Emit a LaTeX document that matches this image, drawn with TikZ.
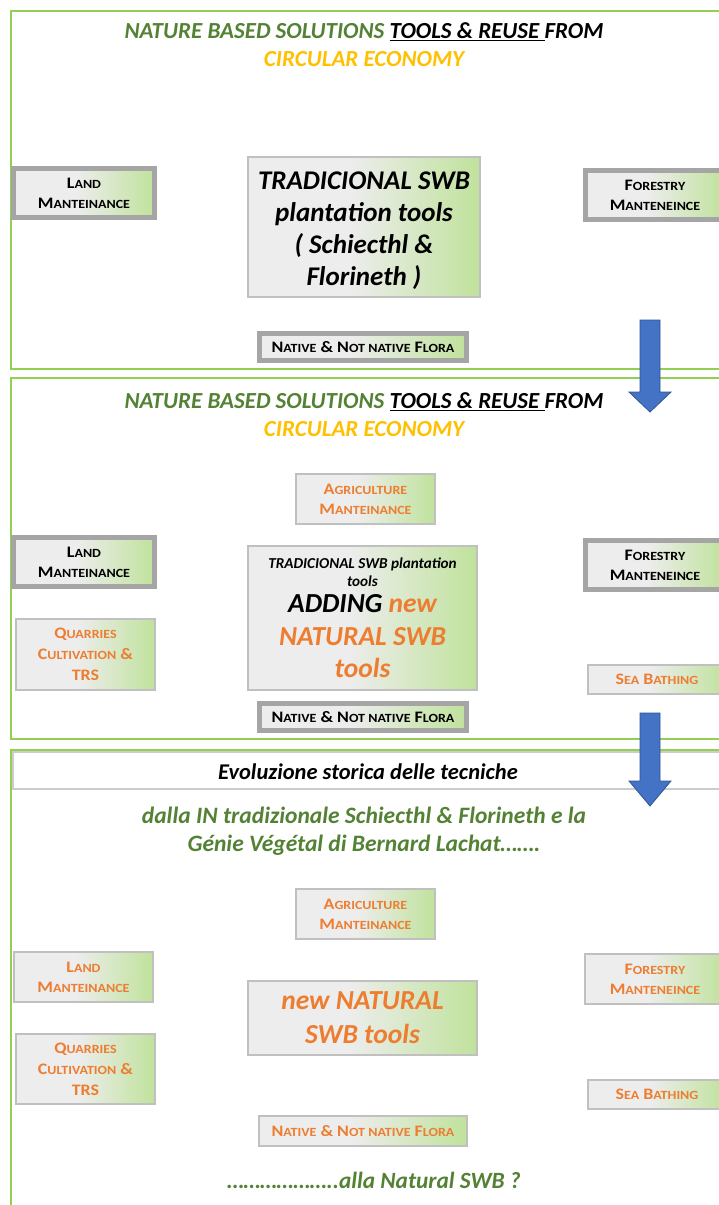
\documentclass[tikz,border=0pt]{standalone}
\usepackage{fontspec}
\setmainfont{Carlito}
\newfontfamily\boxfont[FakeStretch=1.12]{Carlito}
\definecolor{framegreen}{HTML}{92D050}
\definecolor{titlegreen}{HTML}{548235}
\definecolor{gold}{HTML}{FFC000}
\definecolor{orng}{HTML}{ED7D31}
\definecolor{boxgray}{HTML}{EDEDED}
\definecolor{boxgreen}{HTML}{C0E29C}
\definecolor{thickborder}{HTML}{A5A5A5}
\definecolor{thinborder}{HTML}{C0C0C0}
\definecolor{arrblue}{HTML}{4472C4}
\definecolor{arredge}{HTML}{2F5597}
\pgfdeclarehorizontalshading{boxshade}{100bp}{color(0bp)=(boxgray); color(47bp)=(boxgray); color(75bp)=(boxgreen); color(100bp)=(boxgreen)}
\newcommand\sm[1]{{\fontsize{12.5}{12.5}\selectfont #1}}
\newcommand\nolsl{\lineskiplimit=-100pt\relax}
\tikzset{
  frame/.style={draw=framegreen, line width=2pt},
  boxbase/.style={shade, shading=boxshade, align=center, inner sep=0pt,
    font={\boxfont\bfseries\fontsize{16}{20}\selectfont\nolsl}},
  thinbox/.style={boxbase, draw=thinborder, line width=1.3pt},
  thickbox/.style={boxbase, draw=thickborder, line width=5pt},
  bigtext/.style={font={\bfseries\itshape\fontsize{27}{32}\selectfont\nolsl}},
  titletext/.style={align=center, inner sep=0pt, font={\bfseries\itshape\fontsize{23}{28}\selectfont\nolsl}},
  blockarrow/.style={fill=arrblue, draw=arredge, line width=0.8pt}
}
\begin{document}
\begin{tikzpicture}[x=1pt,y=-1pt]
\clip (0,0) rectangle (719,1205);
\fill[white] (0,0) rectangle (719,1205);
% panel frames
\draw[frame] (11,11) rectangle (740,369);
\draw[frame] (11,378) rectangle (740,739);
\draw[frame] (11,750) rectangle (740,1230);

% ---------- panel 1
\node[titletext] (t1) at (364,45) {\textcolor{titlegreen}{NATURE BASED SOLUTIONS} \underline{TOOLS \& REUSE\ }FROM\\\textcolor{gold}{CIRCULAR ECONOMY}};
\node[thickbox, minimum width=141pt, minimum height=49pt] (land1) at (84,193) {L\sm{AND}\\M\sm{ANTEINANCE}};
\node[thinbox, bigtext, minimum width=232pt, minimum height=140pt] (trad1) at (364,227) {\rule{0pt}{25pt}TRADICIONAL SWB\\plantation tools\\( Schiecthl \&\\Florineth )};
\node[thickbox, minimum width=139pt, minimum height=49pt] (forest1) at (655,195) {F\sm{ORESTRY}\\M\sm{ANTENEINCE}};
\node[thickbox, minimum width=207pt, minimum height=27pt] (native1) at (363,347) {N\sm{ATIVE} \& N\sm{OT NATIVE} F\sm{LORA}};

% ---------- panel 2
\node[titletext] (t2) at (364,415) {\textcolor{titlegreen}{NATURE BASED SOLUTIONS} \underline{TOOLS \& REUSE\ }FROM\\\textcolor{gold}{CIRCULAR ECONOMY}};
\node[thinbox, text=orng, minimum width=139pt, minimum height=50pt] (agri2) at (365.5,499) {A\sm{GRICULTURE}\\M\sm{ANTEINANCE}};
\node[thickbox, minimum width=141pt, minimum height=49pt] (land2) at (84,562) {L\sm{AND}\\M\sm{ANTEINANCE}};
\node[thinbox, minimum width=229pt, minimum height=144pt,
  font={\bfseries\itshape\fontsize{27.5}{18}\selectfont\nolsl}] (trad2) at (362.5,618)
  {{\fontsize{15.2}{18}\selectfont TRADICIONAL SWB plantation}\\{\fontsize{15.2}{18}\selectfont tools}\\[8pt]ADDING \textcolor{orng}{new}\\[15pt]\textcolor{orng}{NATURAL SWB}\\[14pt]\textcolor{orng}{tools}};
\node[thinbox, text=orng, minimum width=139pt, minimum height=71pt, font={\boxfont\bfseries\fontsize{16}{21}\selectfont\nolsl}] (quarr2) at (85.5,654.5) {Q\sm{UARRIES}\\C\sm{ULTIVATION} \&\\TRS};
\node[thickbox, minimum width=139pt, minimum height=49pt] (forest2) at (655,565) {F\sm{ORESTRY}\\M\sm{ANTENEINCE}};
\node[thinbox, text=orng, minimum width=138pt, minimum height=29pt] (sea2) at (657,679.5) {S\sm{EA} B\sm{ATHING}};
\node[thickbox, minimum width=207pt, minimum height=27pt] (native2) at (363,717) {N\sm{ATIVE} \& N\sm{OT NATIVE} F\sm{LORA}};

% ---------- panel 3
\draw[draw=black!20, line width=1.2pt, fill=white] (13,752) rectangle (745,789);
\node[titletext, font={\bfseries\itshape\fontsize{22.5}{24}\selectfont}] (hdr) at (368,772) {Evoluzione storica delle tecniche};
\node[titletext, text=titlegreen, font={\bfseries\itshape\fontsize{23.5}{28}\selectfont\nolsl}] (hist) at (364,831) {dalla IN tradizionale Schiecthl \& Florineth e la\\G\'enie V\'eg\'etal di Bernard Lachat…….};
\node[thinbox, text=orng, minimum width=139pt, minimum height=50pt] (agri3) at (365.5,914) {A\sm{GRICULTURE}\\M\sm{ANTEINANCE}};
\node[thinbox, text=orng, minimum width=139pt, minimum height=50pt] (land3) at (83.5,977) {L\sm{AND}\\M\sm{ANTEINANCE}};
\node[thinbox, text=orng, minimum width=140pt, minimum height=50pt] (forest3) at (655,979) {F\sm{ORESTRY}\\M\sm{ANTENEINCE}};
\node[thinbox, text=orng, minimum width=229pt, minimum height=74pt, font={\bfseries\itshape\fontsize{27.5}{34}\selectfont\nolsl}] (new3) at (362.5,1018) {new NATURAL\\SWB tools};
\node[thinbox, text=orng, minimum width=139pt, minimum height=70pt, font={\boxfont\bfseries\fontsize{16}{21}\selectfont\nolsl}] (quarr3) at (85.5,1069) {Q\sm{UARRIES}\\C\sm{ULTIVATION} \&\\TRS};
\node[thinbox, text=orng, minimum width=138pt, minimum height=29pt] (sea3) at (657,1094.5) {S\sm{EA} B\sm{ATHING}};
\node[thinbox, text=orng, minimum width=208pt, minimum height=30pt] (native3) at (363,1131) {N\sm{ATIVE} \& N\sm{OT NATIVE} F\sm{LORA}};
\node[titletext, text=titlegreen, font={\bfseries\itshape\fontsize{23.3}{28}\selectfont}] (final) at (374,1180) {………………..alla Natural SWB ?};

% ---------- block arrows
\draw[blockarrow] (640,320) -- (660,320) -- (660,392) -- (671,392) -- (650,412) -- (629,392) -- (640,392) -- cycle;
\draw[blockarrow] (640,713) -- (660,713) -- (660,781) -- (671,781) -- (650,806) -- (629,781) -- (640,781) -- cycle;
\end{tikzpicture}
\end{document}
